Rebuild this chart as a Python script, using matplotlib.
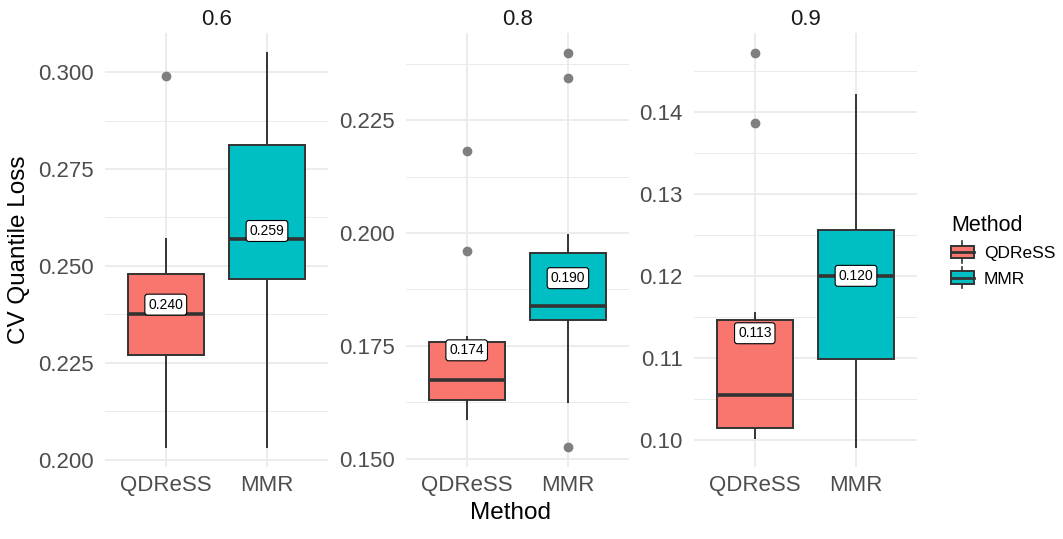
import numpy as np
import matplotlib
matplotlib.use('Agg')
import matplotlib.pyplot as plt
from matplotlib.patches import Rectangle
from matplotlib.lines import Line2D
from matplotlib.legend_handler import HandlerBase
from matplotlib.ticker import AutoMinorLocator, FormatStrFormatter

plt.rcParams['font.family'] = ['Liberation Sans', 'DejaVu Sans']

# facets, methods and box statistics
panels = ['0.6', '0.8', '0.9']
methods = ['QDReSS', 'MMR']
colors = ['#F8766D', '#00BFC4']

q1 = [[0.2269, 0.2467], [0.1629, 0.1807], [0.1015, 0.1098]]
med = [[0.2377, 0.2570], [0.1675, 0.1838], [0.1055, 0.1200]]
q3 = [[0.2479, 0.2812], [0.1759, 0.1955], [0.1146, 0.1256]]
whislo = [[0.2032, 0.2032], [0.1587, 0.1626], [0.1002, 0.0991]]
whishi = [[0.2570, 0.3050], [0.1770, 0.1995], [0.1155, 0.1421]]
fliers = [[[0.299], []],
          [[0.2181, 0.1960], [0.2400, 0.2344, 0.1525]],
          [[0.1472, 0.1386], []]]
means = [[0.240, 0.259], [0.174, 0.190], [0.113, 0.120]]

yticks = [[0.200, 0.225, 0.250, 0.275, 0.300],
          [0.150, 0.175, 0.200, 0.225],
          [0.10, 0.11, 0.12, 0.13, 0.14]]
yfmt = ['%.3f', '%.3f', '%.2f']


class BoxHandler(HandlerBase):
    def create_artists(self, legend, orig_handle, xdescent, ydescent,
                       width, height, fontsize, trans):
        x0, y0 = -xdescent, -ydescent
        fc = orig_handle.get_facecolor()
        rect = Rectangle((x0, y0 + 0.1 * height), width, 0.8 * height,
                         fc=fc, ec='#333333', lw=1.4, transform=trans)
        midl = Line2D([x0, x0 + width], [y0 + height / 2] * 2,
                      color='#333333', lw=2.0, transform=trans)
        lo = Line2D([x0 + width / 2] * 2, [y0 - 0.2 * height, y0 + 0.1 * height],
                    color='#333333', lw=1.2, transform=trans)
        hi = Line2D([x0 + width / 2] * 2, [y0 + 0.9 * height, y0 + 1.2 * height],
                    color='#333333', lw=1.2, transform=trans)
        return [rect, midl, lo, hi]


fig = plt.figure(figsize=(10.63, 5.39), dpi=100)
lefts = [0.0988, 0.3819, 0.6529]
width = 0.2095
bottom, height = 0.1336, 0.8052

for p in range(len(panels)):
    ax = fig.add_axes([lefts[p], bottom, width, height])
    stats = []
    for m in range(len(methods)):
        stats.append(dict(q1=q1[p][m], med=med[p][m], q3=q3[p][m],
                          whislo=whislo[p][m], whishi=whishi[p][m],
                          fliers=fliers[p][m], label=methods[m]))
    bp = ax.bxp(stats, positions=[1, 2], widths=0.75, patch_artist=True,
                showcaps=False,
                boxprops=dict(ec='#333333', lw=1.4),
                medianprops=dict(color='#333333', lw=2.6),
                whiskerprops=dict(color='#333333', lw=1.4),
                flierprops=dict(marker='o', markerfacecolor='#7f7f7f',
                                markeredgecolor='#7f7f7f', markersize=6))
    for patch, c in zip(bp['boxes'], colors):
        patch.set_facecolor(c)
        patch.set_zorder(2)
    for m in range(len(methods)):
        ax.text(m + 1, means[p][m], '%.3f' % means[p][m], ha='center', va='center',
                fontsize=10, zorder=5,
                bbox=dict(boxstyle='round,pad=0.25,rounding_size=0.2',
                          fc='white', ec='black', lw=0.8))

    vals = [v for row in (q1[p], q3[p], whislo[p], whishi[p]) for v in row]
    vals += [v for f in fliers[p] for v in f]
    lo, hi = min(vals), max(vals)
    pad = 0.05 * (hi - lo)
    ax.set_ylim(lo - pad, hi + pad)
    ax.set_xlim(0.4, 2.6)
    ax.set_yticks(yticks[p])
    ax.yaxis.set_major_formatter(FormatStrFormatter(yfmt[p]))
    ax.yaxis.set_minor_locator(AutoMinorLocator(2))
    ax.set_xticks([1, 2])
    ax.set_xticklabels(methods)
    ax.set_axisbelow(True)
    ax.grid(True, which='major', color='#EBEBEB', lw=1.3)
    ax.grid(True, which='minor', axis='y', color='#EBEBEB', lw=0.7)
    for s in ax.spines.values():
        s.set_visible(False)
    ax.tick_params(which='both', length=0, labelsize=16, labelcolor='#4D4D4D')
    ax.tick_params(axis='y', pad=8)
    ax.tick_params(axis='x', pad=6)
    ax.set_title(panels[p], fontsize=16, color='#1A1A1A', pad=6)

fig.text(0.0175, bottom + height / 2, 'CV Quantile Loss', rotation=90,
         ha='center', va='center', fontsize=17.5, color='black')
fig.text((lefts[0] + lefts[2] + width) / 2, 0.037, 'Method', ha='center',
         va='baseline', fontsize=17.5, color='black')

handles = [Rectangle((0, 0), 1, 1, fc=c) for c in colors]
leg = fig.legend(handles, methods, loc='center left', bbox_to_anchor=(0.880, 0.535),
                 frameon=False, title='Method', fontsize=12.5, title_fontsize=15.5,
                 handler_map={Rectangle: BoxHandler()}, handlelength=1.3,
                 handleheight=1.0, handletextpad=0.6, labelspacing=0.5)
leg._legend_box.align = 'left'

fig.savefig('out.png', dpi=100)
